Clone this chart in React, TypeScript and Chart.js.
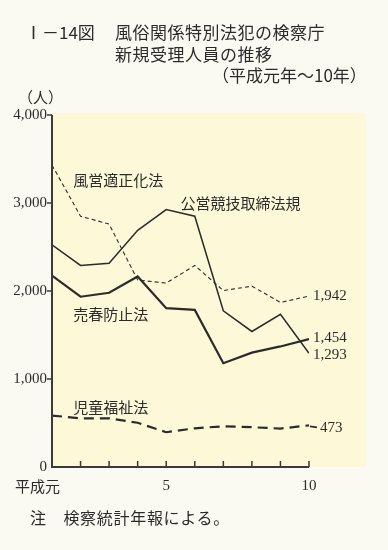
import React, { useEffect, useRef } from "react";
import { Chart, registerables } from "chart.js";

Chart.register(...registerables);

const years = [1, 2, 3, 4, 5, 6, 7, 8, 9, 10];
const fueiTekiseika = [3430, 2850, 2760, 2125, 2090, 2290, 2005, 2055, 1870, 1942];
const koueiKyogi = [2525, 2290, 2315, 2690, 2925, 2850, 1775, 1540, 1735, 1293];
const baishunBoshi = [2175, 1935, 1980, 2165, 1805, 1785, 1180, 1300, 1370, 1454];
const jidoFukushi = [585, 553, 553, 503, 395, 440, 462, 452, 437, 473];

const seriesNames = ["風営適正化法", "公営競技取締法規", "売春防止法", "児童福祉法"];
const endLabels = ["1,942", "1,293", "1,454", "473"];

const yTickValues = [0, 1000, 2000, 3000, 4000];
const yTickTexts = ["0", "1,000", "2,000", "3,000", "4,000"];
const xTickYears = [1, 5, 10];
const xTickTexts = ["平成元", "5", "10"];

const JP = '"Noto Sans CJK JP", sans-serif';
const NUM = '"Liberation Serif", "DejaVu Serif", serif';
const INK = "#2b2b2b";

export default function App() {
  const ref = useRef<HTMLCanvasElement | null>(null);

  useEffect(() => {
    const canvas = ref.current!;
    const toXY = (arr: number[]) => arr.map((v, i) => ({ x: years[i], y: v }));

    const overlay = {
      id: "overlay",
      beforeDraw(chart: any) {
        const { ctx, chartArea } = chart;
        ctx.save();
        ctx.fillStyle = "#fcf8d8";
        ctx.fillRect(chartArea.left, chartArea.top - 2, chartArea.right - chartArea.left + 57, chartArea.bottom - chartArea.top + 2);
        ctx.restore();
      },
      afterDraw(chart: any) {
        const { ctx, chartArea } = chart;
        const xs = chart.scales.x;
        const ys = chart.scales.y;
        ctx.save();
        // axes
        ctx.strokeStyle = "#3a3a3a";
        ctx.lineWidth = 2;
        ctx.beginPath();
        ctx.moveTo(chartArea.left, ys.getPixelForValue(4000));
        ctx.lineTo(chartArea.left, chartArea.bottom);
        ctx.lineTo(xs.getPixelForValue(10), chartArea.bottom);
        ctx.stroke();
        ctx.lineWidth = 1.5;
        // x ticks (inward)
        years.forEach((yr, i) => {
          if (i === 0) return;
          const px = xs.getPixelForValue(yr);
          ctx.beginPath();
          ctx.moveTo(px, chartArea.bottom);
          ctx.lineTo(px, chartArea.bottom - 6);
          ctx.stroke();
        });
        // y ticks (outward)
        yTickValues.forEach((v) => {
          if (v === 0) return;
          const py = ys.getPixelForValue(v);
          ctx.beginPath();
          ctx.moveTo(chartArea.left, py);
          ctx.lineTo(chartArea.left - 5, py);
          ctx.stroke();
        });
        // y tick labels
        ctx.fillStyle = INK;
        ctx.font = `15px ${NUM}`;
        ctx.textAlign = "right";
        ctx.textBaseline = "middle";
        yTickValues.forEach((v, i) => {
          ctx.fillText(yTickTexts[i], chartArea.left - 5, ys.getPixelForValue(v));
        });
        // x tick labels
        xTickYears.forEach((yr, i) => {
          const px = xs.getPixelForValue(yr);
          const t = xTickTexts[i];
          if (/^\d+$/.test(t)) {
            ctx.font = `15px ${NUM}`;
            ctx.textAlign = "center";
            ctx.fillText(t, px, chartArea.bottom + 19);
          } else {
            ctx.font = `15px ${JP}`;
            ctx.textAlign = "right";
            ctx.fillText(t, px + 8, chartArea.bottom + 19);
          }
        });
        // series labels
        ctx.font = `15px ${JP}`;
        ctx.textAlign = "left";
        const labelPos = [
          [1.74, 3260],
          [5.5, 3000],
          [1.74, 1735],
          [1.74, 680],
        ];
        seriesNames.forEach((n, i) => {
          ctx.fillText(n, xs.getPixelForValue(labelPos[i][0]), ys.getPixelForValue(labelPos[i][1]));
        });
        // end labels
        ctx.font = `15px ${NUM}`;
        const lastVals = [fueiTekiseika[9], koueiKyogi[9], baishunBoshi[9], jidoFukushi[9]];
        const dy = [0, 2, -1, 3];
        const dx = [4, 4, 4, 11];
        lastVals.forEach((v, i) => {
          const px = xs.getPixelForValue(10);
          const py = ys.getPixelForValue(v);
          ctx.fillText(endLabels[i], px + dx[i], py + dy[i]);
        });
        // leader for 473
        ctx.strokeStyle = INK;
        ctx.lineWidth = 2;
        const p473 = ys.getPixelForValue(jidoFukushi[9]);
        ctx.beginPath();
        ctx.moveTo(xs.getPixelForValue(10) + 1, p473 + 1);
        ctx.lineTo(xs.getPixelForValue(10) + 8, p473 + 2);
        ctx.stroke();
        ctx.restore();
      },
    };

    const chart = new Chart(canvas, {
      type: "line",
      data: {
        datasets: [
          {
            label: seriesNames[0],
            data: toXY(fueiTekiseika),
            borderColor: INK,
            borderWidth: 1.1,
            borderDash: [4, 3],
            pointRadius: 0,
            tension: 0,
          },
          {
            label: seriesNames[1],
            data: toXY(koueiKyogi),
            borderColor: INK,
            borderWidth: 1.5,
            pointRadius: 0,
            tension: 0,
          },
          {
            label: seriesNames[2],
            data: toXY(baishunBoshi),
            borderColor: INK,
            borderWidth: 2.2,
            pointRadius: 0,
            tension: 0,
          },
          {
            label: seriesNames[3],
            data: toXY(jidoFukushi),
            borderColor: INK,
            borderWidth: 2.2,
            borderDash: [10, 6],
            pointRadius: 0,
            tension: 0,
          },
        ],
      },
      options: {
        responsive: false,
        animation: false,
        layout: { padding: { left: 52, right: 79, top: 115, bottom: 83 } },
        plugins: { legend: { display: false }, tooltip: { enabled: false }, title: { display: false } },
        scales: {
          x: { type: "linear", min: 1, max: 10, display: false },
          y: { type: "linear", min: 0, max: 4000, display: false },
        },
      },
      plugins: [overlay],
    });
    return () => chart.destroy();
  }, []);

  const txt = (left: number, top: number, s: string, size: number, extra: any = {}) => (
    <div
      style={{
        position: "absolute",
        left,
        top,
        fontFamily: JP,
        fontSize: size,
        lineHeight: `${size}px`,
        color: INK,
        whiteSpace: "nowrap",
        ...extra,
      }}
    >
      {s}
    </div>
  );

  return (
    <div style={{ position: "fixed", left: 0, top: 0, width: 388, height: 550, background: "#fbfaf2", overflow: "hidden" }}>
      <canvas ref={ref} width={388} height={550} style={{ position: "absolute", left: 0, top: 0 }} />
      {txt(25, 23, "Ⅰ－14図", 17)}
      {txt(115, 23, "風俗関係特別法犯の検察庁", 17, { letterSpacing: "0.5px" })}
      {txt(115, 45, "新規受理人員の推移", 17, { letterSpacing: "0.5px" })}
      {txt(212, 66, "（平成元年～10年）", 17)}
      {txt(18, 89, "（人）", 15)}
      {txt(30, 509, "注　検察統計年報による。", 16, { letterSpacing: "0.7px" })}
    </div>
  );
}
